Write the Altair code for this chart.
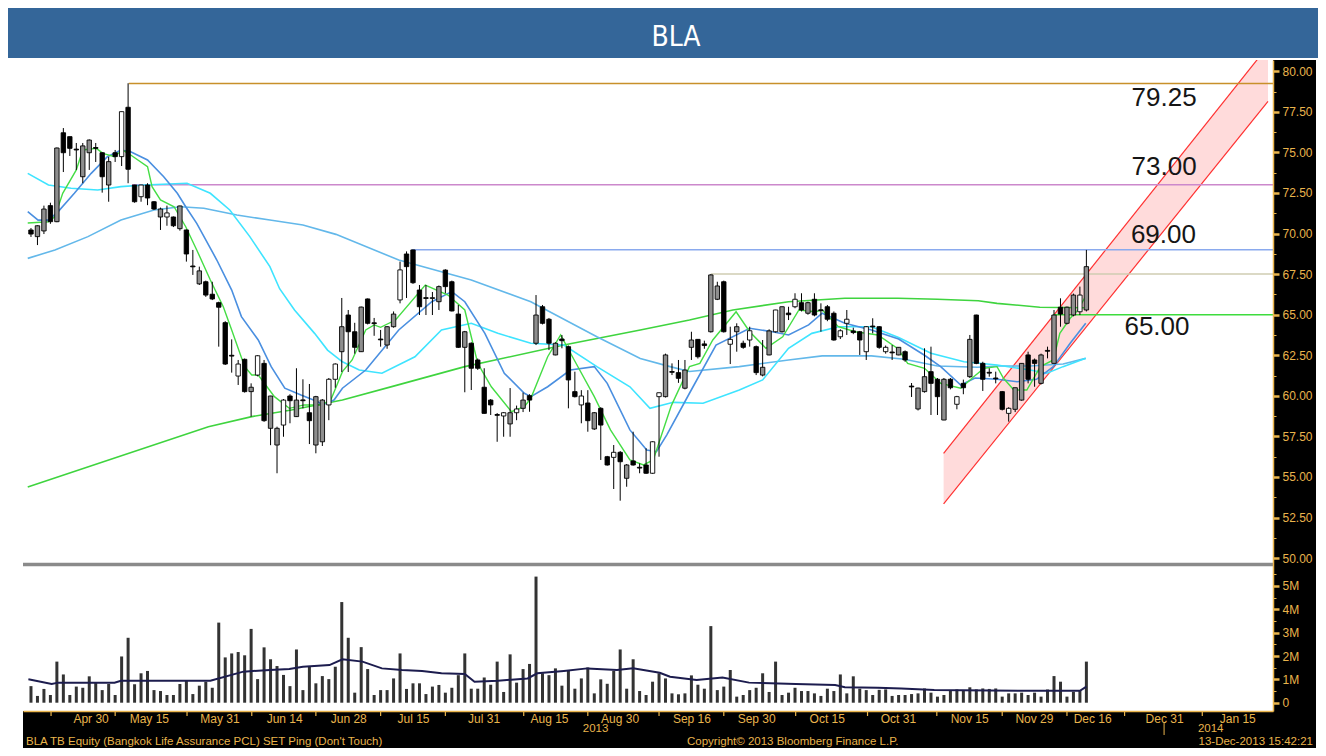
import altair as alt
import pandas as pd

# ---------------- data ----------------
opens = [70.22, 69.81, 70.16, 71.72, 70.73, 76.21, 75.97, 75.20, 73.50, 74.98,
         75.30, 74.98, 72.99, 74.98, 74.74, 77.78, 72.99, 72.27, 72.99, 71.96,
         71.02, 71.02, 71.02, 70.30, 70.22, 68.00, 66.90, 67.03, 66.26, 65.74,
         64.51, 62.50, 61.22, 62.25, 60.26, 61.28, 62.00, 58.00, 56.97, 58.20,
         59.99, 58.72, 59.75, 58.96, 56.97, 57.17, 59.44, 61.02, 62.72, 64.98,
         63.95, 62.72, 65.97, 64.50, 63.50, 63.13, 64.26, 65.91, 68.74, 68.99,
         66.52, 66.05, 66.00, 65.80, 67.75, 67.03, 65.04, 62.99, 63.24, 62.21,
         60.53, 59.74, 58.85, 58.76, 58.27, 58.96, 59.23, 60.01, 63.24, 65.49,
         64.72, 62.52, 63.50, 63.03, 60.26, 59.44, 59.56, 57.96, 59.23, 56.25,
         56.21, 56.52, 54.92, 55.99, 55.60, 55.74, 55.23, 59.95, 59.95, 61.50,
         61.43, 60.47, 62.99, 63.48, 63.20, 63.95, 65.95, 67.03, 63.18, 63.95,
         63.24, 63.44, 63.03, 61.28, 62.52, 63.95, 63.95, 65.10, 65.49, 65.74,
         65.09, 65.95, 65.30, 65.49, 65.09, 63.64, 64.47, 64.00, 63.95, 62.72,
         64.30, 64.26, 62.72, 62.70, 62.52, 62.72, 60.60, 59.19, 60.26, 61.49,
         61.02, 58.51, 61.02, 59.48, 60.77, 61.18, 64.98, 62.00, 61.45, 61.10,
         60.26, 58.92, 59.17, 59.74, 62.52, 62.21, 60.77, 62.80, 62.00, 65.46,
         64.47, 64.98, 65.18, 65.29]
highs = [70.34, 70.50, 71.72, 71.90, 75.30, 76.50, 75.97, 75.58, 75.58, 75.80,
         75.58, 75.00, 74.72, 75.15, 77.51, 79.26, 73.00, 73.00, 73.10, 72.00,
         71.60, 71.72, 71.05, 71.72, 70.25, 68.99, 67.96, 67.10, 67.03, 65.80,
         64.60, 63.48, 62.21, 62.30, 60.77, 62.50, 62.21, 60.00, 58.10, 59.80,
         60.10, 61.70, 61.02, 60.73, 60.00, 59.80, 61.10, 62.00, 66.03, 65.29,
         64.50, 65.50, 66.00, 64.80, 64.06, 64.30, 65.20, 68.27, 68.90, 69.00,
         66.83, 66.83, 66.40, 66.80, 67.80, 67.10, 65.60, 64.00, 63.30, 62.30,
         61.70, 59.80, 58.94, 59.00, 60.48, 59.40, 60.20, 60.10, 66.21, 65.60,
         64.80, 63.30, 63.75, 63.10, 61.49, 60.35, 60.35, 59.00, 59.30, 56.30,
         56.97, 56.60, 55.80, 57.79, 55.84, 56.77, 57.20, 60.20, 62.60, 62.00,
         62.21, 62.21, 63.95, 63.50, 63.40, 67.50, 67.03, 67.10, 64.26, 64.47,
         63.40, 64.26, 63.10, 63.44, 64.10, 65.30, 65.50, 65.49, 66.32, 66.32,
         65.80, 66.32, 65.70, 65.60, 65.20, 64.10, 65.29, 64.20, 64.00, 64.30,
         64.78, 64.30, 63.10, 63.13, 63.00, 62.80, 60.79, 60.50, 62.93, 63.03,
         61.10, 61.10, 61.10, 60.00, 61.00, 63.75, 65.00, 62.10, 61.70, 61.49,
         60.30, 59.30, 60.50, 62.00, 62.72, 62.30, 62.60, 63.03, 65.29, 66.01,
         65.50, 66.30, 66.73, 68.99]
lows = [69.79, 69.29, 69.97, 70.60, 70.70, 73.79, 74.78, 73.92, 73.10, 73.92,
        74.41, 72.52, 71.96, 74.41, 74.16, 73.10, 71.90, 71.96, 71.75, 71.45,
        70.22, 70.48, 70.40, 70.18, 68.27, 67.45, 66.83, 66.10, 65.90, 63.03,
        61.90, 61.43, 60.67, 60.20, 58.72, 61.20, 58.40, 56.96, 55.23, 57.48,
        58.31, 58.70, 59.23, 57.03, 56.46, 56.91, 58.50, 60.50, 61.47, 61.47,
        62.60, 62.70, 64.40, 63.70, 63.03, 62.90, 64.20, 65.70, 66.03, 66.90,
        64.98, 64.98, 64.98, 65.29, 66.32, 65.20, 62.95, 60.22, 60.36, 61.60,
        58.90, 58.82, 57.17, 57.48, 57.48, 58.50, 59.00, 59.02, 63.13, 64.40,
        62.82, 62.50, 62.93, 59.23, 59.90, 58.31, 57.79, 57.90, 56.05, 55.70,
        54.26, 53.54, 54.40, 55.70, 55.23, 55.20, 55.20, 56.25, 59.90, 61.28,
        60.80, 60.40, 62.21, 62.30, 62.90, 63.90, 65.90, 63.90, 61.96, 62.72,
        62.90, 63.03, 61.28, 61.20, 62.50, 63.90, 63.90, 64.67, 65.40, 65.20,
        65.00, 64.90, 63.95, 64.60, 63.40, 63.50, 63.75, 63.80, 62.52, 62.21,
        63.85, 62.90, 62.60, 62.21, 62.50, 62.10, 59.93, 59.10, 60.20, 58.82,
        58.82, 58.50, 60.40, 59.17, 60.10, 61.10, 61.95, 60.30, 61.18, 60.77,
        59.10, 58.41, 59.00, 59.70, 60.77, 60.56, 60.70, 62.31, 62.00, 64.26,
        64.40, 64.90, 64.98, 65.20]
closes = [69.97, 70.48, 71.51, 70.73, 75.27, 74.98, 75.25, 75.15, 75.40, 75.76,
          75.25, 73.50, 74.43, 74.74, 77.51, 73.96, 71.96, 72.99, 72.19, 71.51,
          71.51, 71.27, 70.48, 71.70, 68.74, 67.95, 67.70, 66.21, 65.97, 65.46,
          61.96, 62.45, 61.96, 60.26, 60.53, 62.47, 58.47, 59.99, 58.00, 59.74,
          59.70, 59.74, 59.70, 58.47, 59.95, 59.74, 61.02, 61.96, 64.26, 63.95,
          62.99, 65.47, 64.47, 64.45, 63.45, 64.26, 65.04, 67.76, 67.96, 66.97,
          65.49, 66.00, 66.05, 66.73, 66.73, 65.23, 62.99, 63.95, 61.70, 61.70,
          58.92, 59.44, 58.80, 58.96, 58.96, 59.19, 59.74, 59.74, 64.98, 64.47,
          63.24, 63.24, 63.40, 60.98, 59.95, 59.99, 58.47, 58.96, 58.20, 55.74,
          56.52, 55.94, 55.74, 55.74, 55.55, 55.23, 57.17, 60.19, 62.52, 61.45,
          61.08, 61.59, 63.44, 62.41, 63.10, 67.45, 66.77, 63.95, 63.48, 64.26,
          62.99, 64.01, 61.43, 61.76, 64.00, 65.29, 65.49, 65.00, 65.95, 65.29,
          65.74, 64.98, 65.25, 64.72, 63.44, 64.01, 64.72, 63.90, 63.44, 64.26,
          64.25, 62.99, 62.99, 62.65, 62.99, 62.21, 60.55, 60.48, 61.18, 60.77,
          59.95, 61.02, 60.50, 59.95, 60.50, 63.48, 62.00, 61.02, 61.40, 61.05,
          59.17, 59.23, 60.50, 62.00, 61.02, 62.00, 62.52, 62.75, 64.98, 65.04,
          65.46, 66.21, 66.21, 67.96]
# candle type: B = black (down), W = hollow (up), G = grey
style_rows = ["BGGBGBBBGG", "BBGBWBBWBB", "GWBGBBGBBB", "BBWBGWBGGW", "BGBBGGWWGB",
              "BGBBBGGWBB", "BBWGBBBGBB", "BBBWGWGBGB", "BGBBBWBGBB", "WBGBBBWWGB",
              "BGGBBGGBWG", "BWBGGWGBWB", "GBBBBWWBBW", "BBWBGBBGGB", "BGBWBGBBBB",
              "BWGGBBGBGB", "GGWG"]
volumes = [0.71, 0.29, 0.59, 0.33, 1.76, 1.21, 0.33, 0.69, 0.64, 1.13,
           0.86, 0.54, 0.80, 0.33, 1.98, 2.78, 0.79, 1.26, 1.36, 0.54,
           0.50, 0.33, 0.33, 0.80, 0.94, 0.37, 0.73, 0.90, 0.64, 3.43,
           1.94, 2.11, 2.17, 2.03, 3.16, 1.01, 2.37, 1.86, 1.57, 1.19,
           0.71, 2.28, 0.54, 1.57, 0.83, 1.14, 1.01, 1.54, 4.31, 2.78,
           0.43, 2.38, 1.44, 0.33, 0.54, 0.54, 1.04, 2.11, 0.59, 0.83,
           0.83, 0.37, 0.69, 0.76,
           0.43, 0.64, 1.18, 2.11, 0.60, 0.60, 1.08, 0.77, 1.76, 0.46,
           2.07, 0.86, 1.44, 1.66, 5.40, 1.26, 1.18, 1.47, 0.73, 1.36,
           0.60, 1.04, 1.51, 0.40, 1.00, 0.81, 1.36, 2.28, 0.60, 1.86,
           0.50, 0.33, 0.90, 1.26, 1.04, 0.40, 0.36, 0.40, 1.17, 0.77,
           0.60, 3.28, 0.54, 0.69, 1.40, 0.26, 0.33, 0.54, 0.64, 1.26,
           0.46, 1.76, 0.33, 0.43, 0.64, 0.50, 0.50, 0.40, 0.29, 0.60,
           0.50, 1.21, 0.40, 1.13, 0.60, 0.54, 0.33,
           0.55, 0.57, 0.29, 0.33, 0.33, 0.37, 0.40, 0.61, 0.43, 0.26,
           0.33, 0.54, 0.57, 0.51, 0.66, 0.57, 0.61, 0.59, 0.61, 0.26,
           0.40, 0.40, 0.43, 0.33, 0.43, 0.26, 0.57, 1.14, 0.90, 0.26,
           0.47, 0.54, 1.76]

# moving averages, (bar index, value)
ma_fast = [(-0.5, 70.65), (2.7, 70.73), (3.7, 71.04), (4.9, 72.48), (7.0, 73.92), (8.0, 75.15), (10.1, 75.25),
           (11.1, 74.94), (12.9, 74.73), (14.1, 75.15), (15.4, 74.84), (18.0, 74.12), (18.7, 72.89), (20.0, 72.07),
           (22.1, 71.65), (23.9, 70.42), (25.6, 68.99), (27.7, 67.14), (29.7, 65.49), (31, 64.06), (33, 61.80),
           (34.1, 61.28), (35.1, 61.28), (37.6, 59.95), (39.9, 59.23), (42.2, 59.44), (44.8, 59.44), (46.3, 59.74),
           (48.1, 61.49), (49.6, 62.21), (51.7, 64.06), (53, 64.37), (54, 64.22),
           (56.3, 64.67), (60.9, 66.83), (64.4, 66.21), (67, 65.29), (69, 62.0), (71.1, 60.56), (74.2, 59.02),
           (76.2, 59.33), (77.2, 59.85), (79.8, 62.41), (81.8, 63.75), (83.9, 62.21), (87, 59.95), (89.5, 57.90),
           (92.5, 56.05), (94.6, 55.74), (96.1, 56.05), (98.9, 59.4), (101.7, 61.80), (103.3, 62.0), (105.3, 63.44),
           (108.9, 65.18), (111, 63.95), (113.5, 62.93), (116.1, 63.64), (118.6, 65.29), (121.1, 65.18),
           (122.2, 65.29), (124.7, 64.26), (127.3, 63.95), (130.8, 63.75), (133.9, 62.9), (135.4, 62.0),
           (138, 61.70), (140.5, 60.77), (143.6, 60.47), (145.6, 61.18), (147.2, 61.70), (149.2, 61.80),
           (150.2, 61.08), (151.8, 60.36), (153.8, 60.36), (155.9, 61.80), (157.9, 62.21), (158.9, 63.85),
           (160.5, 64.78), (161.7, 65.29), (162.9, 66.15)]
ma_blue = [(-0.5, 71.35), (1.1, 70.83), (2.7, 70.83), (4.2, 71.35), (6.7, 72.48), (9.3, 73.71), (11.8, 74.73),
           (13.9, 75.15), (15.4, 75.04), (18, 74.53), (20.5, 73.50), (22.6, 72.48), (23.9, 71.65), (25.6, 70.63),
           (28.7, 68.37), (31, 66.52), (32.5, 64.88), (35.1, 63.44), (37.1, 61.80), (39.2, 60.47), (41.7, 60.05),
           (44.3, 59.64), (45, 59.44), (46.8, 59.74), (48.1, 60.47),
           (51.7, 61.59), (56.8, 64.06), (61.9, 65.80), (65, 66.42), (67, 65.80), (70.1, 63.85), (73.1, 61.39),
           (76.2, 60.16), (77.2, 59.95), (79.8, 60.56), (83.3, 61.59), (87, 61.80), (89, 60.77), (92.5, 57.90),
           (95.1, 56.66), (96.6, 56.56), (98.2, 57.6), (101.7, 60.16), (105.8, 63.13), (111, 64.16),
           (114.5, 63.95), (117, 63.75), (120.1, 64.37), (122.2, 65.09), (125.7, 64.47), (129.8, 64.06),
           (134, 63.5), (138, 62.5), (140.5, 61.8), (143.6, 60.67), (145.8, 61.1), (149.2, 61.02), (152.3, 60.87),
           (155.3, 61.02), (157.9, 61.80), (160.5, 63.24), (162.9, 64.47)]
ma_cyan = [(-0.5, 73.71), (2.7, 72.99), (6.2, 72.79), (10.3, 72.68), (13.9, 72.89), (17.5, 72.99), (24.1, 73.10),
           (27.7, 72.48), (30.7, 71.45), (33.8, 69.81), (36.9, 67.96), (38.4, 66.6), (40.7, 65.29), (43.8, 63.85),
           (45.8, 62.82), (48.1, 62.10), (50.7, 61.59), (54.2, 61.39), (59.3, 62.41), (63.4, 64.06), (68, 64.47),
           (72.1, 63.85), (77.2, 63.24), (82.3, 63.13), (87.4, 61.80), (92.5, 60.56), (95.6, 59.23), (99.2, 59.6),
           (103.8, 59.54), (109.4, 60.36), (113, 60.98), (117, 62.93), (120.6, 63.85), (124.7, 64.26),
           (129.8, 64.26), (134, 63.6), (139, 62.62), (144.1, 62.10), (149.2, 61.90), (154.3, 61.59),
           (156.9, 61.39), (159.4, 61.80), (162.9, 62.31)]
ma_sky = [(-0.5, 68.47), (3.7, 68.99), (8.8, 69.81), (13.9, 70.83), (19, 71.45), (23.1, 71.65), (26.7, 71.56),
          (31.8, 71.14), (36.9, 70.83), (42, 70.53), (47.1, 69.95), (56.8, 68.37), (68, 67.14), (77.2, 65.80),
          (87.4, 63.64), (94.1, 62.3), (98.7, 61.8), (101.7, 61.5), (109.4, 61.80), (117, 62.21), (122.2, 62.46),
          (129.8, 62.46), (134.9, 62.25), (140, 61.84), (146.2, 61.76), (149.2, 61.84), (154.3, 61.84),
          (159.4, 61.96), (162.9, 62.31)]
ma_long = [(-0.5, 54.38), (11.3, 55.95), (27.4, 58.10), (34.1, 58.72), (40.2, 59.13), (48.1, 59.74), (56, 60.6),
           (67, 61.8), (82.3, 63.13), (94.1, 64.06), (101.7, 64.67), (108.4, 65.29), (117, 65.8), (125.7, 66.01),
           (133.9, 66.01), (140, 65.95), (146.3, 65.86), (149.2, 65.70), (155.8, 65.46), (162.7, 65.43)]
vol_ma = [(-0.4, 1.0), (3.2, 0.80), (4.2, 0.86), (12.9, 0.86), (13.9, 0.94), (27.7, 0.94), (32.8, 1.33),
          (36.9, 1.40), (39.9, 1.44), (42, 1.54), (46.1, 1.61), (48.1, 1.86), (51.2, 1.76), (54.2, 1.47),
          (57.3, 1.40), (60.4, 1.36), (63.4, 1.26), (67, 1.23), (68.5, 0.90), (72.1, 0.94), (76.7, 1.04),
          (78.2, 1.26), (82.3, 1.36), (85.9, 1.47), (90.5, 1.40), (93, 1.47), (97.1, 1.28), (98.7, 1.11),
          (102.8, 0.97), (106.8, 1.08), (110.9, 0.86), (118.1, 0.80), (124.2, 0.76), (125.7, 0.66),
          (130.8, 0.64), (134.4, 0.61), (139.5, 0.54), (154.8, 0.51), (162, 0.51), (163, 0.69)]

# horizontal levels and the rising channel
levels = [79.25, 73.00, 69.00, 67.50, 65.00]
level_start = [15.1, 15.6, 58.8, 105.0, 157.9]
level_colors = ["#c8902a", "#cc88cc", "#8aaaee", "#cfcdb2", "#3ddc3d"]
level_labels = ["79.25", "73.00", "69.00", "65.00"]
level_label_i = [175.0, 175.0, 174.9, 173.9]
level_label_y = [78.35, 74.12, 69.91, 64.22]
channel_i = [140.95, 191.05]
channel_lo = [53.34, 78.14]
channel_hi = [56.46, 81.55]

# x axis (trading-day index) labels and ticks
x_label_pos = [9.2, 18.2, 29.1, 39.1, 49.0, 59.0, 69.9, 80.0, 90.9, 102.0, 112.0, 122.9, 133.9, 144.9,
               154.9, 163.9, 175.0, 186.3]
x_label_text = ["Apr 30", "May 15", "May 31", "Jun 14", "Jun 28", "Jul 15", "Jul 31", "Aug 15", "Aug 30",
                "Sep 16", "Sep 30", "Oct 15", "Oct 31", "Nov 15", "Nov 29", "Dec 16", "Dec 31", "Jan 15"]
x_tick_pos = [3.1, 13.0, 24.1, 34.1, 44.0, 54.0, 64.0, 76.1, 86.0, 97.0, 107.0, 118.1, 129.2, 139.9, 150.0,
              160.0, 168.9, 180.9]
year_labels = ["2013", "2014"]
year_pos = [87.2, 182.2]
year_split = [175.0]

# ---------------- styling ----------------
GOLD = "#e9b44c"
FONT = "Liberation Sans"
W, H = 1250, 651

styles = list("".join(style_rows))
n = len(closes)
candles = pd.DataFrame({"i": list(range(n)), "open": opens, "high": highs, "low": lows,
                        "close": closes, "style": styles, "vol": volumes, "zero": [0.0] * n})

XS = alt.Scale(domain=[-0.46, 191.05], nice=False, zero=False)
lab_expr = ("[" + ",".join("'%s'" % t for t in x_label_text) + "][indexof([" +
            ",".join(repr(v) for v in x_label_pos) + "], datum.value)]")
XA = alt.Axis(orient="bottom", values=x_label_pos, labelExpr=lab_expr, title=None, grid=False, ticks=False,
              domainColor=GOLD, domainWidth=1.5, labelColor=GOLD, labelFont=FONT, labelFontSize=12,
              labelPadding=2, labelFlush=False, labelOverlap=False, zindex=1)


def X(f):
    return alt.X(f, type="quantitative", scale=XS, axis=XA)


PS = alt.Scale(domain=[40.582, 80.693], nice=False, zero=False)
price_ticks = [50 + 1.25 * k for k in range(25)]
PA = alt.Axis(orient="right", values=price_ticks,
              labelExpr="datum.value % 2.5 == 0 ? format(datum.value, '.2f') : ''",
              tickSize={"condition": {"test": "datum.value % 2.5 == 0", "value": 6}, "value": 3},
              tickWidth={"condition": {"test": "datum.value % 2.5 == 0", "value": 2.5}, "value": 1},
              tickColor=GOLD, domainColor=GOLD, domainWidth=1.5, labelColor=GOLD, labelFont=FONT,
              labelFontSize=12, labelPadding=3, labelFlush=False, labelOverlap=False, grid=False,
              title=None, zindex=1)


def YP(f):
    return alt.Y(f, type="quantitative", scale=PS, axis=PA)


VS = alt.Scale(domain=[-0.355, 27.52], nice=False, zero=False)
vol_ticks = [0.5 * k for k in range(12)]
VA = alt.Axis(orient="right", values=vol_ticks,
              labelExpr="datum.value == 0 ? '0' : (datum.value % 1 == 0 ? datum.value + 'M' : '')",
              tickSize={"condition": {"test": "datum.value % 1 == 0", "value": 6}, "value": 3},
              tickWidth={"condition": {"test": "datum.value % 1 == 0", "value": 2.5}, "value": 1},
              tickColor=GOLD, domain=False, labelColor=GOLD, labelFont=FONT, labelFontSize=12,
              labelPadding=3, labelFlush=False, labelOverlap=False, grid=False, title=None, zindex=1)


def YV(f):
    return alt.Y(f, type="quantitative", scale=VS, axis=VA)


one = pd.DataFrame({"a": [0]})

# ---------------- frame decorations ----------------
# the canvas background is black; white is painted back where the reference is white
white_top = alt.Chart(one).mark_rect(fill="#ffffff", color="#ffffff").encode(
    x=alt.value(-15), x2=alt.value(1296), y=alt.value(-52), y2=alt.value(0))
white_left = alt.Chart(one).mark_rect(fill="#ffffff", color="#ffffff").encode(
    x=alt.value(-15), x2=alt.value(0), y=alt.value(-52), y2=alt.value(H + 37))
white_right = alt.Chart(one).mark_rect(fill="#ffffff", color="#ffffff").encode(
    x=alt.value(W + 43), x2=alt.value(W + 46), y=alt.value(-52), y2=alt.value(H + 37))
title_bar = alt.Chart(one).mark_rect(color="#346699").encode(
    x=alt.value(-15), x2=alt.value(1299), y=alt.value(-52), y2=alt.value(-2))
title_txt = alt.Chart(one).mark_text(
    text="BLA", color="white", fontSize=28,
    font="Liberation Sans Narrow, DejaVu Sans Condensed, Roboto Condensed, Arial Narrow, sans-serif",
    align="center", baseline="middle").encode(x=alt.value(653), y=alt.value(-22))
separator = alt.Chart(one).mark_rect(color="#8a8a8a").encode(
    x=alt.value(0), x2=alt.value(W), y=alt.value(502.7), y2=alt.value(506.3))

# ---------------- price panel ----------------
chan_df = pd.DataFrame({"i": channel_i, "lo": channel_lo, "hi": channel_hi})
chan_area = alt.Chart(chan_df).mark_area(color="#ff2020", opacity=0.16, clip=True).encode(
    x=X("i"), y=YP("lo"), y2=alt.Y2("hi"))
chan_lo = alt.Chart(chan_df).mark_line(color="#ff3030", strokeWidth=1.2, clip=True).encode(
    x=X("i"), y=YP("lo"))
chan_hi = alt.Chart(chan_df).mark_line(color="#ff3030", strokeWidth=1.2, clip=True).encode(
    x=X("i"), y=YP("hi"))

level_layers = []
for lv, st, col in zip(levels, level_start, level_colors):
    d = pd.DataFrame({"level": [lv], "start": [st]})
    level_layers.append(alt.Chart(d).mark_rule(color=col, strokeWidth=1.5).encode(
        x=X("start"), x2=alt.value(W), y=YP("level")))

ma_layers = []
for series, col, sw in [(ma_long, "#3fd43f", 1.6), (ma_sky, "#63b8ea", 1.6), (ma_cyan, "#3ee4ff", 1.6),
                        (ma_blue, "#4a8fe0", 1.6), (ma_fast, "#45dd45", 1.4)]:
    d = pd.DataFrame(series, columns=["i", "v"])
    ma_layers.append(alt.Chart(d).mark_line(color=col, strokeWidth=sw, clip=True).encode(
        x=X("i"), y=YP("v")))

wicks = alt.Chart(candles).mark_rule(color="black", strokeWidth=1).encode(
    x=X("i"), y=YP("low"), y2=alt.Y2("high"))
bodies = alt.Chart(candles).mark_bar(size=4.4, stroke="black", strokeWidth=0.9).encode(
    x=X("i"), y=YP("open"), y2=alt.Y2("close"),
    fill=alt.Fill("style:N", scale=alt.Scale(domain=["B", "W", "G"], range=["#000000", "#ffffff", "#8e8e8e"]),
                  legend=None))

label_layers = []
for txt, li, ly in zip(level_labels, level_label_i, level_label_y):
    d = pd.DataFrame({"i": [li], "y": [ly], "t": [txt]})
    label_layers.append(alt.Chart(d).mark_text(font=FONT, fontSize=26, color="#151515", align="center",
                                               baseline="middle").encode(x=X("i"), y=YP("y"), text="t:N"))

price = alt.layer(white_top, white_left, white_right, title_bar, title_txt, separator,
                  chan_area, chan_lo, chan_hi, *level_layers, *ma_layers, wicks, bodies, *label_layers)

# ---------------- volume panel ----------------
vol_bars = alt.Chart(candles).mark_bar(size=3, color="#333333").encode(
    x=X("i"), y=YV("vol"), y2=alt.Y2("zero"))
vma = alt.Chart(pd.DataFrame(vol_ma, columns=["i", "v"])).mark_line(color="#1c1c4e", strokeWidth=2).encode(
    x=X("i"), y=YV("v"))

ticks_df = pd.DataFrame({"i": x_tick_pos})
x_ticks = alt.Chart(ticks_df).mark_rule(color=GOLD, strokeWidth=1.2).encode(
    x=X("i"), y=alt.value(H), y2=alt.value(H + 5))
years = alt.Chart(pd.DataFrame({"i": year_pos, "t": year_labels})).mark_text(
    font=FONT, fontSize=11.5, color=GOLD, align="center", baseline="middle").encode(
    x=X("i"), y=alt.value(H + 18), text="t:N")
split = alt.Chart(pd.DataFrame({"i": year_split})).mark_rule(color=GOLD, strokeWidth=1).encode(
    x=X("i"), y=alt.value(H + 12), y2=alt.value(H + 24))
FOOT_Y = H + 33.5
foot_left = alt.Chart(one).mark_text(
    text="BLA TB Equity (Bangkok Life Assurance PCL) SET Ping (Don't Touch)", font=FONT, fontSize=11.5,
    color=GOLD, align="left", baseline="alphabetic").encode(x=alt.value(3), y=alt.value(FOOT_Y))
foot_mid = alt.Chart(one).mark_text(
    text="Copyright\u00a9 2013 Bloomberg Finance L.P.", font=FONT, fontSize=11.5,
    color=GOLD, align="left", baseline="alphabetic").encode(x=alt.value(664), y=alt.value(FOOT_Y))
foot_right = alt.Chart(one).mark_text(
    text="13-Dec-2013 15:42:21", font=FONT, fontSize=11.5,
    color=GOLD, align="right", baseline="alphabetic").encode(x=alt.value(1290), y=alt.value(FOOT_Y))

volume = alt.layer(vol_bars, vma, x_ticks, years, split, foot_left, foot_mid, foot_right)

chart = alt.layer(price, volume).resolve_scale(y="independent").properties(
    width=W, height=H,
    autosize=alt.AutoSizeParams(type="none"),
    padding={"left": 15, "top": 52, "right": 45, "bottom": 37},
    background="#000000",
).configure_view(strokeWidth=0, fill="#ffffff")

chart.save("out.html", embed_options={"renderer": "svg", "actions": False})
